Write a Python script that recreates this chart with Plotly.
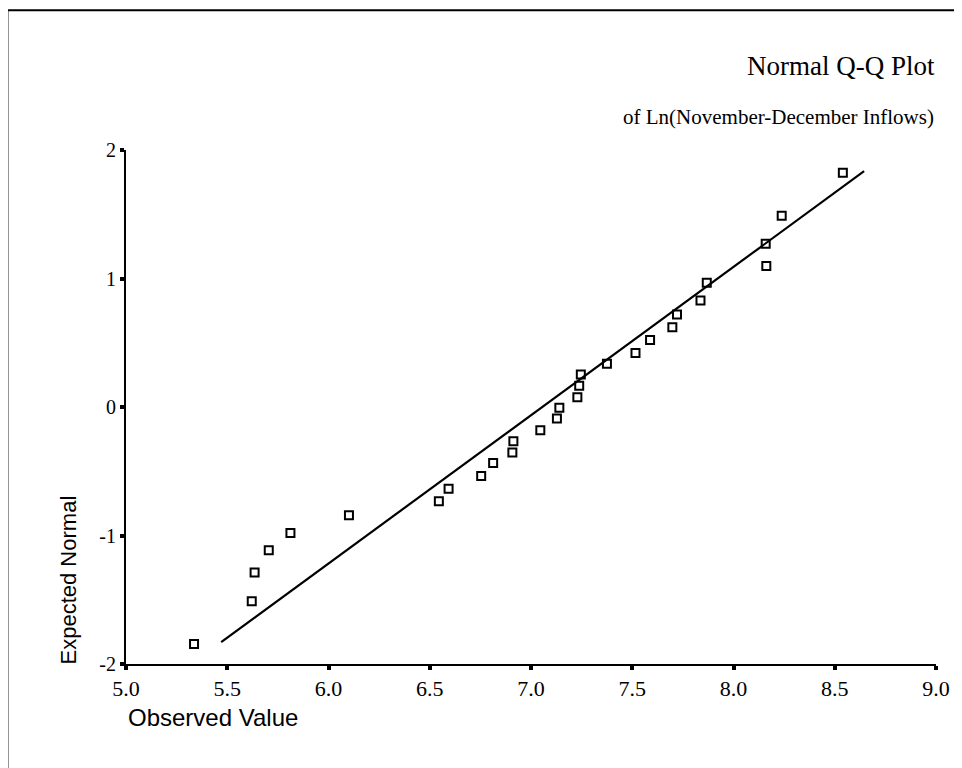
"""Normal Q-Q plot of Ln(November-December inflows), redrawn in plotly."""

import plotly.graph_objects as go

SERIF = '"Liberation Serif", "Times New Roman", serif'
SANS = '"Liberation Sans", Arial, sans-serif'
INK = "#000000"

# observed ln(inflow) values and their expected normal scores
observed = [5.336, 5.621, 5.635, 5.705, 5.812, 6.101, 6.545, 6.593, 6.754, 6.813,
            6.908, 6.913, 7.046, 7.128, 7.140, 7.229, 7.238, 7.246, 7.375, 7.516,
            7.588, 7.698, 7.721, 7.837, 7.868, 8.162, 8.159, 8.238, 8.540]
expected = [-1.845, -1.511, -1.288, -1.115, -0.980, -0.843, -0.734, -0.636, -0.537, -0.436,
            -0.354, -0.266, -0.180, -0.089, -0.006, 0.076, 0.165, 0.253, 0.336, 0.421,
            0.522, 0.620, 0.719, 0.828, 0.967, 1.097, 1.270, 1.488, 1.822]

# reference line end points
line_x = [5.47, 8.645]
line_y = [-1.83, 1.835]

x_ticks = [5.0, 5.5, 6.0, 6.5, 7.0, 7.5, 8.0, 8.5, 9.0]
y_ticks = [-2, -1, 0, 1, 2]

fig = go.Figure()
fig.add_trace(go.Scatter(
    x=line_x, y=line_y, mode="lines",
    line={"color": INK, "width": 2.2}, hoverinfo="skip",
))
fig.add_trace(go.Scatter(
    x=observed, y=expected, mode="markers",
    marker={"symbol": "square-open", "size": 8, "color": INK, "line": {"width": 2, "color": INK}},
    cliponaxis=False,
    hovertemplate="%{x:.3f}<br>%{y:.3f}<extra></extra>",
))

axis_common = dict(
    showgrid=False, zeroline=False, showline=True, linecolor=INK, linewidth=2,
    ticks="outside", tickcolor=INK, ticklen=4, tickwidth=4,
)
fig.update_xaxes(range=[5, 9], tickvals=x_ticks, ticktext=[f"{v:.1f}" for v in x_ticks],
                 tickfont={"family": SERIF, "size": 22, "color": INK}, **axis_common)
fig.update_yaxes(range=[-2, 2], tickvals=y_ticks, ticktext=[str(v) for v in y_ticks],
                 tickfont={"family": SERIF, "size": 20, "color": INK}, **axis_common)

# the page body adds an 8px margin, so the figure is 8px smaller than the window
fig.update_layout(
    width=954, height=760,
    margin={"l": 118, "r": 23, "t": 142, "b": 104},
    paper_bgcolor="white", plot_bgcolor="white",
    showlegend=False,
    shapes=[{
        "type": "rect", "xref": "paper", "yref": "paper",
        "x0": -0.1464, "x1": 1.2, "y0": -0.5, "y1": 1.272,
        "line": {"color": INK, "width": 2},
    }],
    annotations=[
        {"text": "Normal Q-Q Plot", "xref": "paper", "yref": "paper", "x": 1.0012, "y": 1.163,
         "xanchor": "right", "yanchor": "middle", "showarrow": False,
         "font": {"family": SERIF, "size": 27, "color": INK}},
        {"text": "of Ln(November-December Inflows)", "xref": "paper", "yref": "paper",
         "x": 1.0, "y": 1.064, "xanchor": "right", "yanchor": "middle", "showarrow": False,
         "font": {"family": SERIF, "size": 21, "color": INK}},
        {"text": "Observed Value", "xref": "paper", "yref": "paper", "x": 0.0, "y": -0.105,
         "xanchor": "left", "yanchor": "middle", "showarrow": False,
         "font": {"family": SANS, "size": 24, "color": INK}},
        {"text": "Expected Normal", "xref": "paper", "yref": "paper", "x": -0.0713, "y": 0.163,
         "xanchor": "center", "yanchor": "middle", "textangle": -90, "showarrow": False,
         "font": {"family": SANS, "size": 22, "color": INK}},
    ],
)

fig.write_html("out.html")
